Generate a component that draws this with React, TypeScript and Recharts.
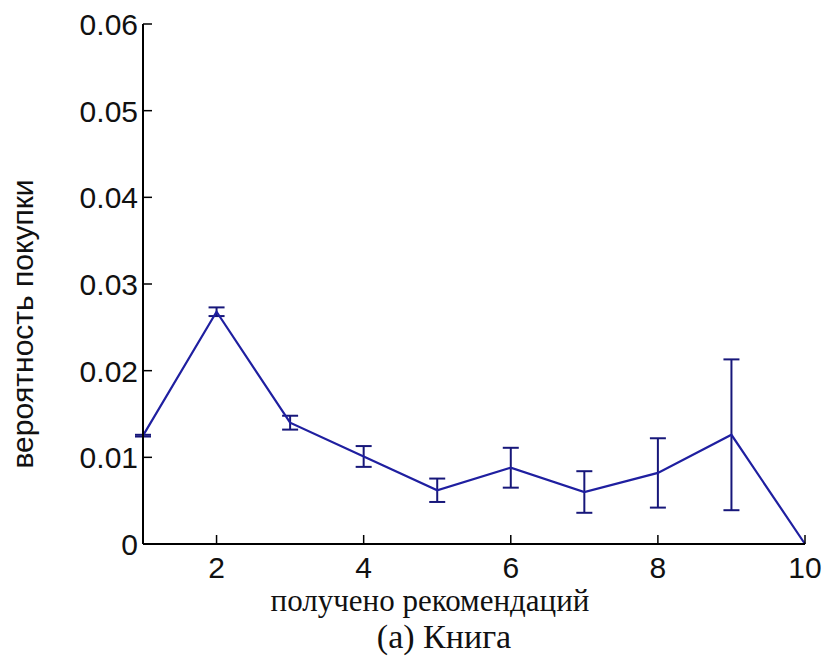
import React from "react";
import { LineChart, Line, XAxis, YAxis, ErrorBar } from "recharts";

// purchase probability vs. number of received recommendations (books)
const received = [1, 2, 3, 4, 5, 6, 7, 8, 9, 10];
const probability = [0.0125, 0.0268, 0.0140, 0.0101, 0.0062, 0.0088, 0.0060, 0.0082, 0.0126, 0];
const stdErr = [0.0001, 0.0005, 0.0008, 0.0012, 0.00135, 0.0023, 0.0024, 0.004, 0.0087, 0];

const xTicks = [2, 4, 6, 8, 10];
const yTicks = [0, 0.01, 0.02, 0.03, 0.04, 0.05, 0.06];

const xLabel = "получено рекомендаций";
const yLabel = "вероятность покупки";
const caption = "(a) Книга";

const data = received.map((n, i) => ({ n, p: probability[i], err: stdErr[i] }));

const SANS = "'Liberation Sans', Arial, sans-serif";
const SERIF = "'Liberation Serif', 'Times New Roman', serif";
const LINE = "#1f1fa0";
const BAR = "#17177a";

// ticks point inwards, matlab style
const XTick = (props: any) => {
  const { x, y, payload } = props;
  return (
    <g>
      <line x1={x} y1={y} x2={x} y2={y - 9} stroke="#000" strokeWidth={1.5} />
      <text x={x} y={y + 34} textAnchor="middle" fontFamily={SANS} fontSize={30} fill="#111">
        {payload.value}
      </text>
    </g>
  );
};

const YTick = (props: any) => {
  const { x, y, payload } = props;
  const v = payload.value;
  return (
    <g>
      <line x1={x} y1={y} x2={x + 9} y2={y} stroke="#000" strokeWidth={1.5} />
      <text x={x - 5} y={y + 11} textAnchor="end" fontFamily={SANS} fontSize={30} fill="#111">
        {v === 0 ? "0" : v.toFixed(2)}
      </text>
    </g>
  );
};

export default function App() {
  return (
    <div style={{ position: "absolute", left: 0, top: 0, width: 825, height: 658, background: "#fff" }}>
      <LineChart width={825} height={658} data={data} margin={{ top: 24, right: 20, left: 0, bottom: 0 }}>
        <XAxis
          dataKey="n"
          type="number"
          domain={[1, 10]}
          ticks={xTicks}
          height={114}
          tickSize={0}
          tickMargin={0}
          tickLine={false}
          axisLine={{ stroke: "#000", strokeWidth: 2 }}
          tick={<XTick />}
          label={{
            content: () => (
              <g>
                <text x={430} y={611} textAnchor="middle" fontFamily={SERIF} fontSize={31} fill="#111">
                  {xLabel}
                </text>
                <text x={444} y={648} textAnchor="middle" fontFamily={SERIF} fontSize={34} fill="#111">
                  {caption}
                </text>
              </g>
            ),
          }}
        />
        <YAxis
          type="number"
          domain={[0, 0.06]}
          ticks={yTicks}
          width={143}
          tickSize={0}
          tickMargin={0}
          tickLine={false}
          axisLine={{ stroke: "#000", strokeWidth: 2 }}
          tick={<YTick />}
          label={{
            content: () => (
              <text
                x={33}
                y={324}
                transform="rotate(-90 33 324)"
                textAnchor="middle"
                fontFamily={SANS}
                fontSize={30}
                fill="#111"
              >
                {yLabel}
              </text>
            ),
          }}
        />
        <Line
          dataKey="p"
          stroke={LINE}
          strokeWidth={2.2}
          dot={false}
          activeDot={false}
          isAnimationActive={false}
        >
          <ErrorBar dataKey="err" direction="y" width={8} stroke={BAR} strokeWidth={2} isAnimationActive={false} />
        </Line>
      </LineChart>
    </div>
  );
}
